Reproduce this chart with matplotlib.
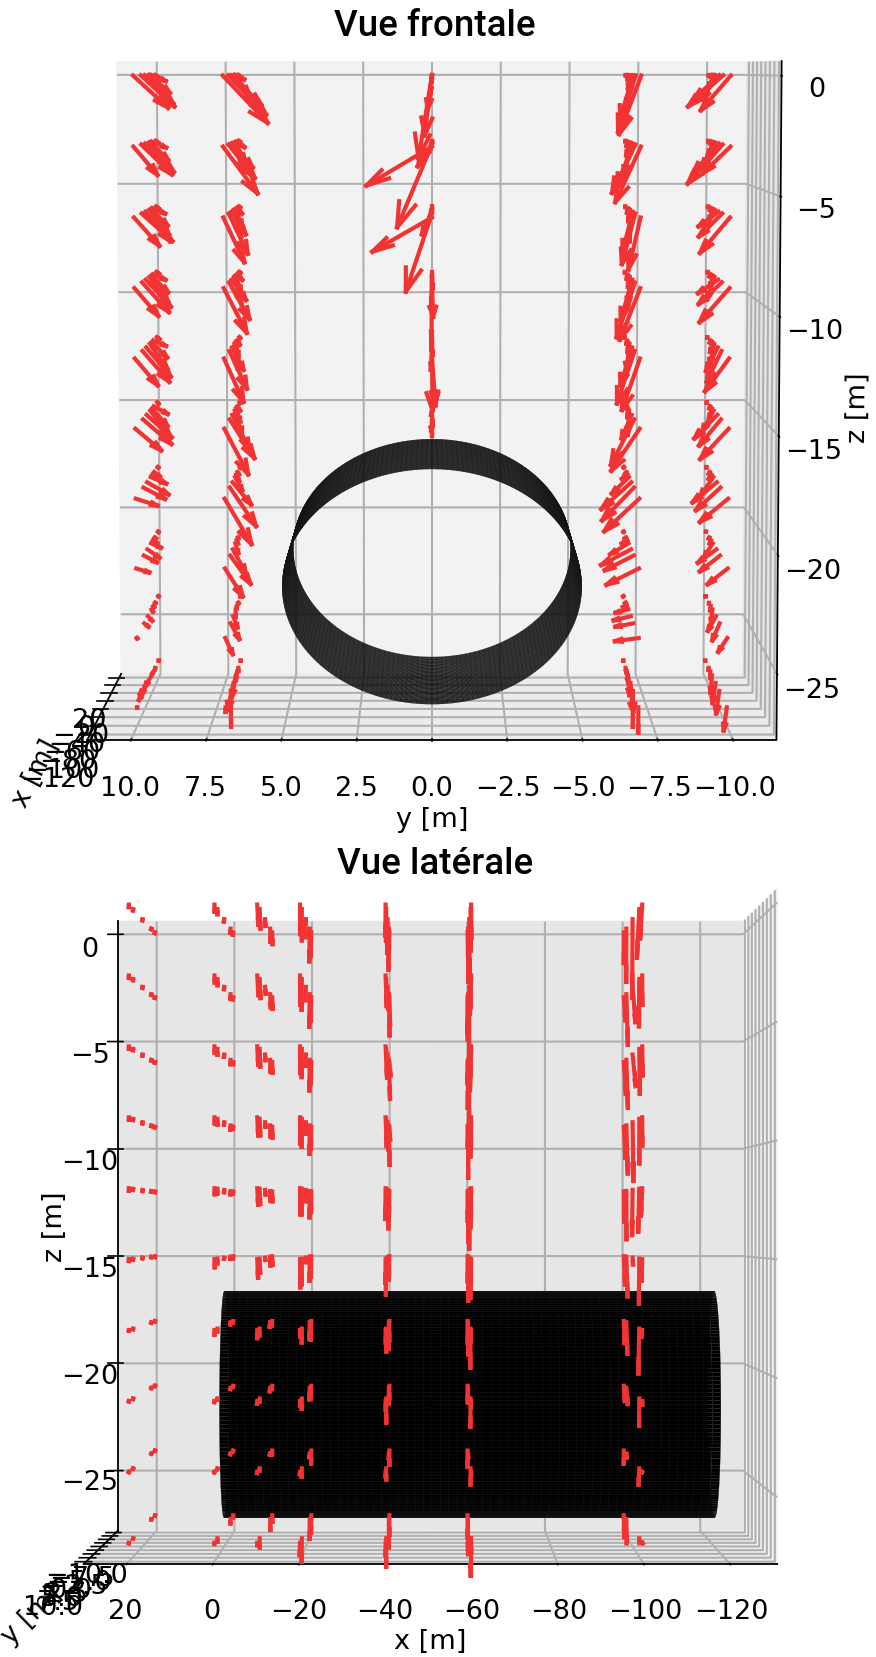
"""
Champ de vitesse autour d'un cylindre : vues frontale et laterale
"""

import numpy as np
import matplotlib
matplotlib.use("Agg")
import matplotlib.pyplot as plt

# Seed positions ===================================
x_stations = [20, 0, -10, -20, -40, -60, -100]
y_columns = [10, 7, 0, -7, -10]
z_levels = [0, -3, -6, -9, -12, -15, -18, -21, -24, -27]

# One row per depth, one value per x station
v_y10 = [
    [-0.1, -0.5, -0.7, -0.8, -1.0, -1.15, -1.17],
    [-0.1, -0.5, -0.63, -0.78, -1.0, -1.05, -0.8],
    [-0.1, -0.45, -0.6, -0.7, -0.85, -1.05, -0.85],
    [-0.1, -0.45, -0.6, -0.65, -0.87, -0.92, -0.8],
    [-0.1, -0.45, -0.55, -0.6, -0.85, -0.92, -0.77],
    [-0.05, -0.5, -0.55, -0.7, -0.87, -0.98, -0.87],
    [-0.03, -0.2, -0.4, -0.55, -0.75, -0.75, -0.74],
    [-0.02, -0.05, -0.15, -0.35, -0.42, -0.45, -0.44],
    [-0.01, -0.02, -0.03, -0.05, -0.15, -0.15, -0.02],
    [0.0, 0.01, 0.05, 0.25, 0.3, 0.2, 0.0],
]
w_y10 = [
    [-0.1, -0.27, -0.8, -1.2, -1.25, -1.35, -1.36],
    [-0.1, -0.27, -0.8, -1.2, -1.25, -1.3, -1.2],
    [-0.1, -0.25, -0.75, -1.1, -1.3, -1.2, -1.2],
    [-0.1, -0.25, -0.75, -1.1, -1.2, -1.3, -1.18],
    [-0.1, -0.25, -0.7, -1.1, -1.3, -1.35, -1.15],
    [-0.08, -0.35, -0.8, -1.2, -1.0, -1.08, -0.93],
    [-0.03, -0.2, -0.35, -0.3, -0.55, -0.5, -0.3],
    [-0.02, -0.05, -0.12, -0.2, -0.38, -0.3, -0.17],
    [-0.01, -0.02, -0.05, -0.1, -0.2, -0.15, -0.02],
    [-0.02, -0.05, -0.1, -0.5, -0.5, -0.4, -0.02],
]
v_y7 = [
    [-0.05, -0.3, -0.5, -0.7, -1.05, -1.3, -1.5],
    [-0.05, -0.3, -0.35, -0.35, -0.75, -0.9, -1.15],
    [-0.05, -0.2, -0.25, -0.25, -0.5, -0.65, -0.7],
    [-0.05, -0.2, -0.2, -0.25, -0.5, -0.7, -0.77],
    [-0.03, -0.1, -0.1, -0.1, -0.4, -0.6, -0.65],
    [-0.02, -0.1, -0.15, -0.25, -0.6, -0.85, -0.8],
    [-0.02, -0.05, -0.1, -0.25, -0.65, -0.9, -0.9],
    [-0.01, -0.02, -0.05, -0.1, -0.45, -0.7, -0.6],
    [0.0, -0.02, 0.0, 0.0, -0.15, -0.3, -0.25],
    [0.0, 0.0, 0.05, 0.15, 0.2, 0.0, 0.0],
]
w_y7 = [
    [-0.05, -0.2, -0.8, -1.3, -1.3, -1.7, -2.0],
    [-0.05, -0.25, -0.8, -1.3, -1.05, -1.45, -1.98],
    [-0.05, -0.25, -0.75, -1.2, -1.0, -1.75, -1.9],
    [-0.05, -0.25, -0.7, -1.2, -0.9, -1.6, -1.9],
    [-0.05, -0.2, -0.65, -1.1, -1.0, -1.65, -1.85],
    [-0.05, -0.2, -0.6, -1.1, -1.55, -1.7, -1.95],
    [-0.03, -0.12, -0.3, -0.6, -1.0, -1.7, -1.95],
    [-0.02, -0.05, -0.15, -0.45, -1.05, -1.25, -1.2],
    [-0.01, -0.03, -0.1, -0.35, -0.5, -0.7, -0.7],
    [-0.02, -0.15, -0.4, -1.0, -1.2, -1.6, -0.2],
]
v_y0 = [
    [0.0, 0.0, 0.02, 0.05, 0.15, 0.25, 0.45],
    [0.0, 0.02, 0.05, 0.2, 0.5, 1.2, 2.2],
    [0.0, 0.02, 0.05, 0.1, 0.35, 0.9, 2.0],
    [0.0, 0.0, 0.0, -0.03, 0.03, -0.04, 0.02],
    [0.0, 0.0, 0.02, -0.03, 0.04, -0.02, -0.12],
    [0.0, 0.0, 0.0, 0.03, -0.03, 0.02, 0.0],
]
w_y0 = [
    [-0.05, -0.1, -0.3, -0.8, -1.5, -2.6, -3.5],
    [-0.05, -0.1, -0.3, -0.6, -1.0, -3.6, -1.65],
    [-0.05, -0.1, -0.25, -0.5, -1.0, -3.4, -1.45],
    [-0.05, -0.1, -0.2, -0.5, -1.2, -1.5, -2.6],
    [-0.05, -0.1, -0.2, -0.5, -1.0, -2.6, -2.0],
    [-0.03, -0.05, -0.1, -0.2, -0.4, -0.5, -0.3],
]
v_ym7 = [
    [0.0, 0.02, 0.05, 0.1, 0.45, 0.6, 0.73],
    [0.0, 0.05, 0.1, 0.2, 0.55, 0.8, 0.85],
    [0.0, 0.02, 0.02, 0.0, 0.35, 0.45, 0.4],
    [0.0, 0.02, 0.02, 0.05, 0.4, 0.62, 0.68],
    [0.0, 0.02, 0.02, 0.1, 0.4, 0.6, 0.6],
    [0.0, 0.02, 0.02, 0.05, 0.35, 0.8, 0.95],
    [0.02, 0.05, 0.2, 0.6, 1.05, 1.1, 1.18],
    [0.01, 0.05, 0.2, 0.65, 1.05, 1.0, 1.1],
    [0.01, 0.03, 0.15, 0.45, 0.6, 0.62, 0.8],
    [0.0, -0.02, -0.05, -0.05, -0.1, 0.0, 0.0],
]
w_ym7 = [
    [-0.03, -0.2, -0.6, -1.5, -1.9, -2.45, -2.47],
    [-0.03, -0.2, -0.6, -1.5, -1.9, -2.1, -2.35],
    [-0.03, -0.2, -0.55, -1.4, -1.8, -2.2, -2.2],
    [-0.03, -0.2, -0.5, -1.3, -1.8, -2.4, -2.2],
    [-0.03, -0.15, -0.45, -1.2, -1.7, -2.3, -2.2],
    [-0.03, -0.1, -0.4, -1.1, -1.05, -2.0, -1.8],
    [-0.02, -0.1, -0.2, -0.75, -1.2, -1.45, -1.4],
    [-0.01, -0.05, -0.15, -0.5, -0.7, -0.65, -0.7],
    [-0.01, -0.03, -0.05, -0.15, -0.18, -0.15, -0.14],
    [-0.02, -0.2, -0.5, -0.9, -1.3, -1.6, -1.1],
]
v_ym10 = [
    [0.0, 0.05, 0.2, 0.45, 0.85, 1.2, 1.0],
    [0.0, 0.05, 0.2, 0.45, 0.9, 1.2, 0.9],
    [0.0, 0.05, 0.15, 0.4, 0.7, 0.8, 1.0],
    [0.0, 0.05, 0.1, 0.25, 0.7, 0.8, 1.0],
    [0.0, 0.03, 0.08, 0.15, 0.4, 0.5, 0.8],
    [0.0, 0.03, 0.1, 0.4, 0.8, 0.75, 0.95],
    [0.0, 0.03, 0.1, 0.45, 0.85, 0.85, 0.95],
    [0.0, 0.02, 0.05, 0.3, 0.65, 0.7, 0.68],
    [0.0, 0.0, 0.02, 0.05, 0.28, 0.25, 0.3],
    [0.0, 0.0, 0.0, 0.05, 0.1, 0.1, 0.1],
]
w_ym10 = [
    [-0.03, -0.1, -0.55, -1.1, -1.0, -1.35, -1.47],
    [-0.03, -0.1, -0.55, -1.1, -1.3, -1.7, -1.1],
    [-0.03, -0.1, -0.5, -1.0, -0.65, -1.0, -1.5],
    [-0.03, -0.1, -0.5, -1.0, -0.6, -0.95, -1.45],
    [-0.03, -0.1, -0.45, -0.95, -1.05, -1.35, -1.4],
    [-0.03, -0.1, -0.4, -0.95, -1.05, -1.15, -1.3],
    [-0.02, -0.08, -0.2, -0.85, -0.9, -1.0, -1.0],
    [-0.01, -0.05, -0.15, -0.6, -0.6, -0.7, -0.68],
    [-0.01, -0.03, -0.2, -0.6, -0.65, -0.75, -0.6],
    [-0.02, -0.1, -0.3, -0.8, -0.9, -1.0, -1.0],
]
# Streamwise part, read from the side view
u_all = [
    [0.05, 0.08, -0.1, 0.1, 0.1, -0.1, 0.2],
    [0.04, 0.06, -0.15, 0.1, -0.2, 0.1, -0.2],
    [0.04, 0.05, -0.1, 0.08, -0.3, 0.1, -0.3],
    [0.04, 0.05, -0.1, 0.05, -0.2, 0.0, -0.2],
    [0.04, 0.05, -0.1, 0.05, 0.1, 0.0, 0.1],
    [0.04, 0.05, -0.08, 0.05, 0.1, 0.0, -0.1],
    [0.03, 0.05, 0.08, 0.05, 0.0, 0.0, 0.0],
    [0.03, 0.05, 0.08, 0.05, 0.0, 0.0, -0.1],
    [0.02, 0.05, 0.05, 0.05, 0.0, 0.0, 0.1],
    [0.02, 0.03, -0.05, 0.05, 0.0, 0.0, -0.1],
]

x_ticks = [20, 0, -20, -40, -60, -80, -100, -120]
y_ticks = [10.0, 7.5, 5.0, 2.5, 0.0, -2.5, -5.0, -7.5, -10.0]
z_ticks = [0, -5, -10, -15, -20, -25]

# Cylinder
cyl_radius = 5.0
cyl_zc = -21.5
cyl_x = [0.0, -120.0]

RED = "#f23333"

plt.rcParams["font.family"] = ["DejaVu Sans"]
plt.rcParams["font.size"] = 19.5
plt.rcParams["axes.linewidth"] = 1.3
plt.rcParams["grid.linewidth"] = 1.5
plt.rcParams["xtick.major.width"] = 1.2
plt.rcParams["ytick.major.width"] = 1.2


def collect_arrows():
    tables = [(v_y10, w_y10), (v_y7, w_y7), (v_y0, w_y0), (v_ym7, w_ym7), (v_ym10, w_ym10)]
    X, Y, Z, U, V, W = [], [], [], [], [], []
    for yc, (vt, wt) in zip(y_columns, tables):
        for k in range(len(vt)):
            for i, xs in enumerate(x_stations):
                X.append(xs)
                Y.append(yc)
                Z.append(z_levels[k])
                U.append(u_all[k][i])
                V.append(vt[k][i])
                W.append(wt[k][i])
    return X, Y, Z, U, V, W


def draw_scene(ax, cyl_alpha):
    X, Y, Z, U, V, W = collect_arrows()
    ax.computed_zorder = False

    # cylinder surface
    th = np.linspace(0, 2 * np.pi, 181)
    xx = np.linspace(cyl_x[0], cyl_x[1], 60)
    T, XC = np.meshgrid(th, xx)
    YC = cyl_radius * np.cos(T)
    ZC = cyl_zc + cyl_radius * np.sin(T)
    ax.plot_surface(XC, YC, ZC, color="k", alpha=cyl_alpha, shade=False, rstride=1, cstride=1,
                    linewidth=0.2, edgecolor="#1a1a1a", zorder=1)

    ax.quiver(X, Y, Z, U, V, W, color=RED, linewidth=3.0, arrow_length_ratio=0.3,
              capstyle="projecting", zorder=2)

    ax.set_xlim(-131, 30)
    ax.set_ylim(-11.45, 11.45)
    ax.set_zlim(-27.8, 0.6)
    ax.set_xticks(x_ticks)
    ax.set_yticks(y_ticks)
    ax.set_zticks(z_ticks)
    ax.set_xlabel("x [m]", labelpad=7)
    ax.set_ylabel("y [m]", labelpad=7)
    ax.set_zlabel("z [m]", labelpad=7)
    ax.tick_params(pad=4.5)
    ax.xaxis.set_pane_color((0.95, 0.95, 0.95, 1.0))
    ax.yaxis.set_pane_color((0.90, 0.90, 0.90, 1.0))
    ax.zaxis.set_pane_color((0.925, 0.925, 0.925, 1.0))


fig = plt.figure(figsize=(8.76, 16.58), dpi=100)

# Vue frontale
A = 700 / 876
H = 700 / 1658
ax1 = fig.add_axes([72.5 / 876, 912 / 1658, A, H], projection="3d")
ax1.set_box_aspect((1.04, 1.743, 1.71), zoom=1.39)
draw_scene(ax1, 0.8)
ax1.view_init(elev=4.8, azim=180)

# Vue laterale
ax2 = fig.add_axes([71 / 876, (1658 - 1227 - 359.5) / 1658, A, H], projection="3d")
ax2.set_box_aspect((1.74, 1.04, 1.696), zoom=1.385)
draw_scene(ax2, 1.0)
ax2.view_init(elev=0, azim=89.99)

fig.text(435 / 876, 1 - 27 / 1658, "Vue frontale", ha="center", va="center",
         fontsize=26.5, family="Roboto", weight="medium")
fig.text(435 / 876, 1 - 865 / 1658, "Vue latérale", ha="center", va="center",
         fontsize=26.5, family="Roboto", weight="medium")

fig.savefig("out.png", dpi=100)
